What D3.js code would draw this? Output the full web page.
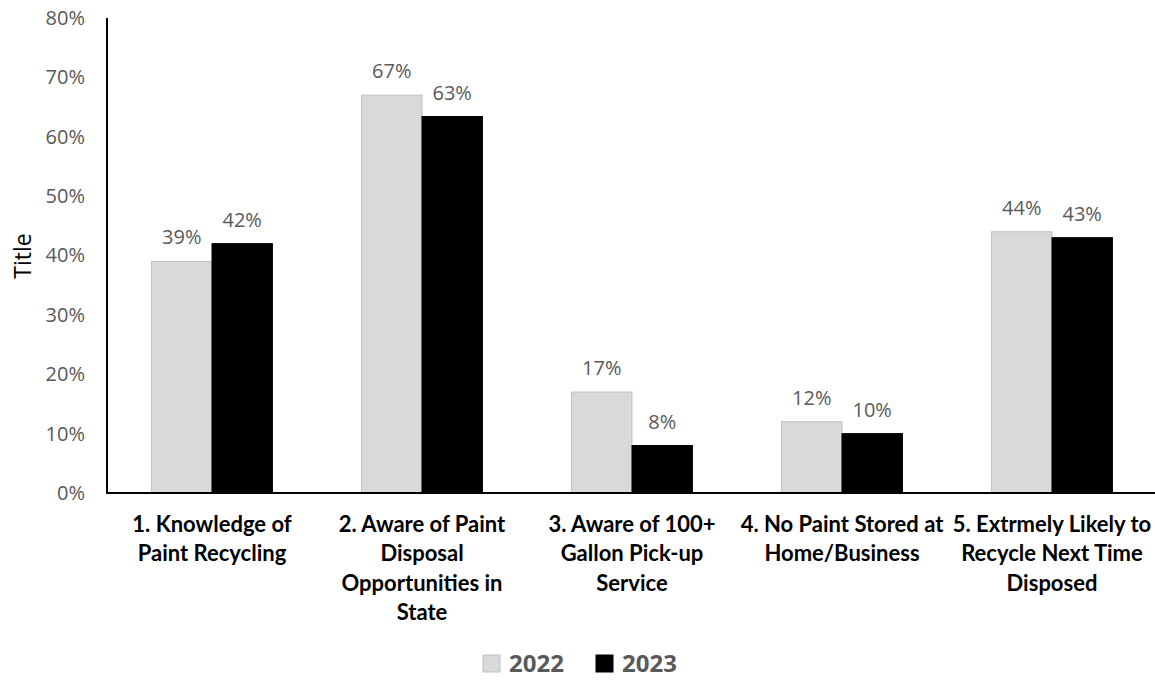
<!DOCTYPE html>
<html lang="en">
<head>
    <meta charset="UTF-8">
    <title>Paint Recycling Survey</title>
    <style>
        body { margin: 0; background: #fff; }
        svg { display: block; }
    </style>
    <script src="https://d3js.org/d3.v7.min.js"></script>
</head>
<body>
    <svg width="1155" height="681"></svg>

    <script>
        // data
        const categories = [
            '1. Knowledge of Paint Recycling',
            '2. Aware of Paint Disposal Opportunities in State',
            '3. Aware of 100+ Gallon Pick-up Service',
            '4. No Paint Stored at Home/Business',
            '5. Extrmely Likely to Recycle Next Time Disposed'
        ];
        // how the category labels break into lines
        const categoryLines = [
            ['1. Knowledge of', 'Paint Recycling'],
            ['2. Aware of Paint', 'Disposal', 'Opportunities in', 'State'],
            ['3. Aware of 100+', 'Gallon Pick-up', 'Service'],
            ['4. No Paint Stored at', 'Home/Business'],
            ['5. Extrmely Likely to', 'Recycle Next Time', 'Disposed']
        ];
        const seriesNames = ['2022', '2023'];
        const values2022 = [0.39, 0.67, 0.17, 0.12, 0.44];
        const values2023 = [0.42, 0.634, 0.08, 0.10, 0.43];
        const yTicks = [0, 0.1, 0.2, 0.3, 0.4, 0.5, 0.6, 0.7, 0.8];

        const colors = { '2022': '#d9d9d9', '2023': '#000000' };
        const strokes = { '2022': '#bfbfbf', '2023': '#000000' };

        const rows = categories.map((c, i) => ({
            cat: c,
            lines: categoryLines[i],
            vals: [
                { s: '2022', v: values2022[i] },
                { s: '2023', v: values2023[i] }
            ]
        }));

        const svg = d3.select('svg');
        const plotLeft = 107, plotRight = 1157, plotTop = 18, plotBottom = 493;

        const x0 = d3.scaleBand().domain(categories).range([plotLeft, plotRight]).paddingInner(0);
        const x1 = d3.scaleBand().domain(seriesNames).range([0, x0.bandwidth()])
            .paddingInner(0).paddingOuter(0.738);
        const y = d3.scaleLinear().domain([0, 0.8]).range([plotBottom, plotTop]);

        const pct = d3.format('.0%');

        // y axis labels
        const yAxis = svg.append('g')
            .attr('transform', `translate(${plotLeft},0)`)
            .call(d3.axisLeft(y).tickValues(yTicks).tickFormat(pct).tickSize(0).tickPadding(22));
        yAxis.select('.domain').remove();
        yAxis.selectAll('text')
            .attr('fill', '#595959')
            .style('font-family', '"Open Sans", sans-serif')
            .style('font-size', '20px');

        // bars
        const groups = svg.append('g').selectAll('g')
            .data(rows)
            .join('g')
            .attr('transform', d => `translate(${x0(d.cat)},0)`);

        groups.selectAll('rect')
            .data(d => d.vals)
            .join('rect')
            .attr('x', d => x1(d.s))
            .attr('y', d => y(d.v))
            .attr('width', x1.bandwidth())
            .attr('height', d => y(0) - y(d.v))
            .attr('fill', d => colors[d.s])
            .attr('stroke', d => strokes[d.s])
            .attr('stroke-width', 1);

        groups.selectAll('text.lbl')
            .data(d => d.vals)
            .join('text')
            .attr('class', 'lbl')
            .attr('x', d => x1(d.s) + x1.bandwidth() / 2)
            .attr('y', d => y(d.v) - 17)
            .attr('text-anchor', 'middle')
            .attr('fill', '#595959')
            .style('font-family', '"Open Sans", sans-serif')
            .style('font-size', '20px')
            .text(d => pct(d.v));

        // axis lines
        svg.append('line')
            .attr('x1', plotLeft).attr('x2', plotLeft)
            .attr('y1', plotTop).attr('y2', plotBottom)
            .attr('stroke', '#000').attr('stroke-width', 2);
        svg.append('line')
            .attr('x1', plotLeft - 1).attr('x2', 1155)
            .attr('y1', plotBottom).attr('y2', plotBottom)
            .attr('stroke', '#000').attr('stroke-width', 2);

        // category labels
        const catLabels = svg.append('g').selectAll('text')
            .data(rows)
            .join('text')
            .attr('x', d => x0(d.cat) + x0.bandwidth() / 2)
            .attr('y', 532)
            .attr('text-anchor', 'middle')
            .attr('fill', '#000')
            .style('font-family', 'Lato, sans-serif')
            .style('font-weight', 'bold')
            .style('font-size', '22px');
        catLabels.selectAll('tspan')
            .data(d => d.lines)
            .join('tspan')
            .attr('x', function () { return d3.select(this.parentNode).attr('x'); })
            .attr('dy', (d, i) => i === 0 ? 0 : 29.3)
            .text(d => d);

        // y title
        svg.append('text')
            .attr('transform', 'translate(31,256) rotate(-90)')
            .attr('text-anchor', 'middle')
            .attr('fill', '#000')
            .style('font-family', '"Open Sans", sans-serif')
            .style('font-size', '23px')
            .text('Title');

        // legend
        const legend = svg.append('g').selectAll('g')
            .data(seriesNames)
            .join('g')
            .attr('transform', (d, i) => `translate(${483 + i * 113},655)`);
        legend.append('rect')
            .attr('width', 17).attr('height', 17)
            .attr('fill', d => colors[d])
            .attr('stroke', d => strokes[d]);
        legend.append('text')
            .attr('x', 26).attr('y', 17)
            .attr('fill', '#595959')
            .style('font-family', '"Open Sans", sans-serif')
            .style('font-weight', 'bold')
            .style('font-size', '24px')
            .text(d => d);
    </script>
</body>
</html>
